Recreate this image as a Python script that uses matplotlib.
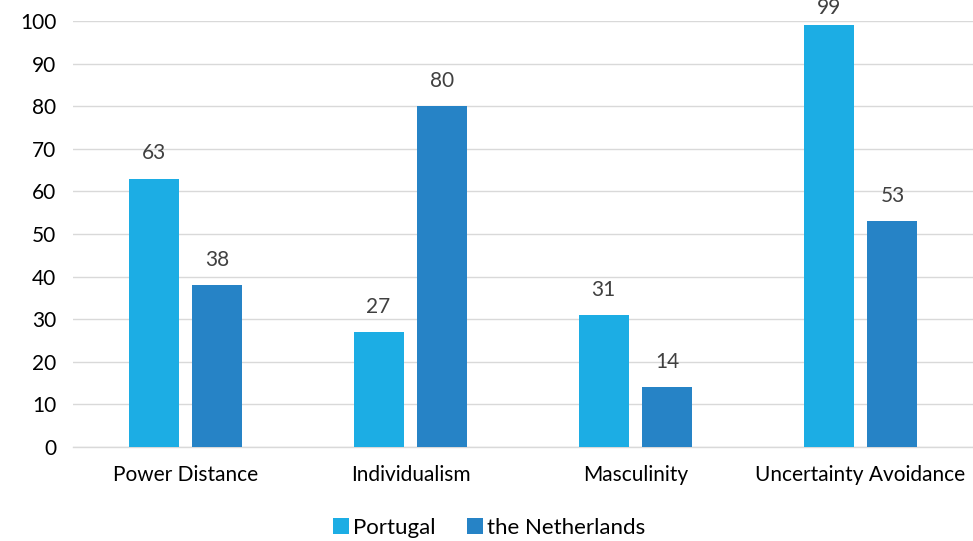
import numpy as np
import matplotlib.pyplot as plt

plt.rcParams['font.family'] = ['Lato', 'DejaVu Sans']

categories = ['Power Distance', 'Individualism', 'Masculinity', 'Uncertainty Avoidance']
portugal = [63, 27, 31, 99]
netherlands = [38, 80, 14, 53]

c_pt = '#1CADE4'
c_nl = '#2683C6'

fig = plt.figure(figsize=(9.73, 5.41), dpi=100)
ax = fig.add_axes([0.075, 0.174, 0.925, 0.787])

x = np.arange(len(categories))
w = 0.222
off = 0.142
b1 = ax.bar(x - off, portugal, w, color=c_pt, label='Portugal', zorder=3)
b2 = ax.bar(x + off, netherlands, w, color=c_nl, label='the Netherlands', zorder=3)

for bars, vals in [(b1, portugal), (b2, netherlands)]:
    for b, v in zip(bars, vals):
        # labels near the top are pushed down to stay inside the chart
        ax.text(b.get_x() + b.get_width() / 2, min(v + 3.6, 100.7), str(v),
                ha='center', va='bottom', fontsize=15, color='#404040', clip_on=False)

ax.set_xlim(-0.5, 3.5)
ax.set_ylim(0, 100)
ax.set_yticks(range(0, 101, 10))
ax.set_xticks(x)
ax.set_xticklabels(categories)
ax.tick_params(length=0, labelsize=15, colors='black')
ax.tick_params(axis='x', pad=13)
ax.tick_params(axis='y', pad=12)
ax.grid(axis='y', color='#D9D9D9', linewidth=1, zorder=0)
for s in ['top', 'right', 'left']:
    ax.spines[s].set_visible(False)
ax.spines['bottom'].set_color('#D9D9D9')
ax.spines['bottom'].set_linewidth(1)

fig.legend(loc='center', bbox_to_anchor=(0.503, 0.024), ncol=2, frameon=False,
           fontsize=16, handlelength=0.7, handleheight=0.7, handletextpad=0.2,
           columnspacing=1.4, borderpad=0.1)

fig.savefig('out.png', dpi=100)
